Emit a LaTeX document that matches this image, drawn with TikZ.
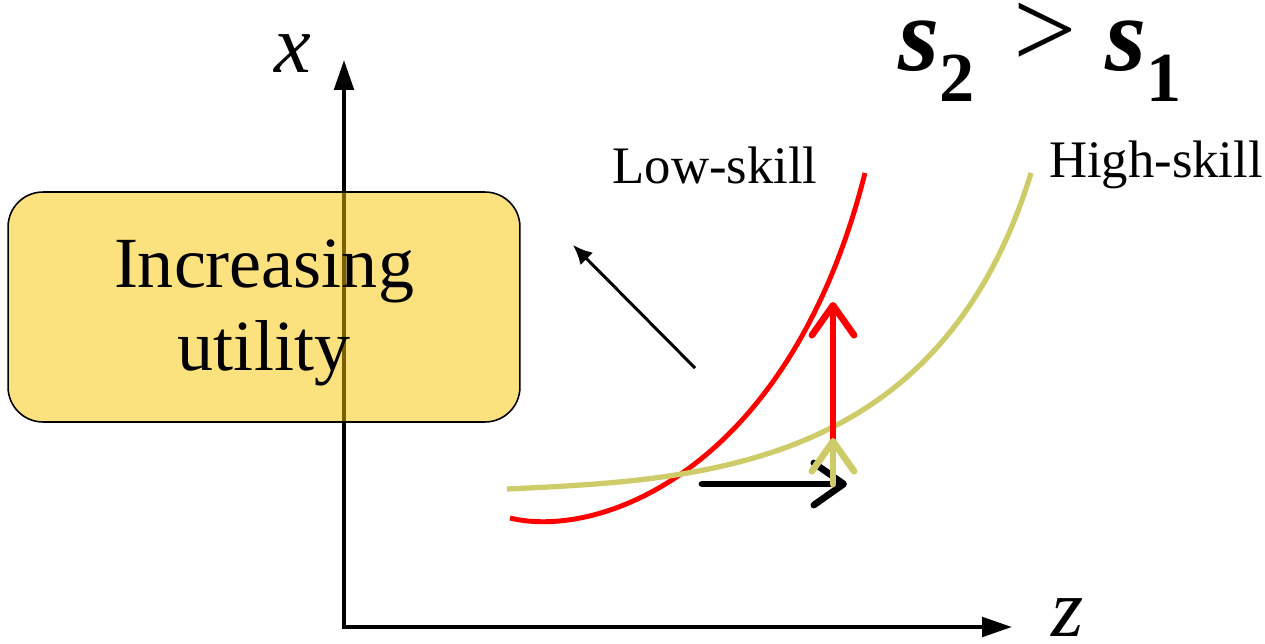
\documentclass[tikz,border=0pt]{standalone}
\usepackage{fontspec}
\setmainfont{Liberation Serif}[
  BoldFont={Liberation Serif Bold},
  ItalicFont={Liberation Serif Italic},
  BoldItalicFont={Liberation Serif Bold Italic}]
\usetikzlibrary{arrows.meta}
\definecolor{SkillRed}{HTML}{FF0000}
\definecolor{SkillOlive}{HTML}{CDCC68}
\definecolor{BoxGold}{HTML}{FAC300}
\tikzset{
  axisLine/.style={-{Triangle[length=17pt, width=11pt]}, line width=2.3pt},
  lowCurve/.style={draw=SkillRed, line width=2.8pt},
  highCurve/.style={draw=SkillOlive, line width=3pt},
  shiftArrow/.style={-{Straight Barb[length=17pt, width=24pt, round]}, line width=3.8pt, line cap=round},
  utilBox/.style={draw, line width=0.9pt, rounded corners=0.7cm, fill=BoxGold, fill opacity=0.5,
    minimum width=10.24cm, minimum height=4.6cm},
  utilText/.style={align=center, font=\fontsize{41pt}{47pt}\selectfont},
  curveLabel/.style={anchor=base, font=\fontsize{30pt}{32pt}\selectfont},
  axisLabel/.style={anchor=base, inner sep=0pt, font=\fontsize{47pt}{47pt}\selectfont\itshape},
  titlePart/.style={anchor=base west, inner sep=0pt, font=\fontsize{60pt}{60pt}\selectfont\bfseries\itshape}
}
\begin{document}
\begin{tikzpicture}[x=0.02cm, y=-0.02cm]
  \useasboundingbox (0,0) rectangle (1265,643);

  % Axes
  \coordinate (o) at (344,627);
  \coordinate (xtop) at (344,60);
  \coordinate (zend) at (1012,627);
  \draw[axisLine] (o) -- (xtop);
  \draw[axisLine] ([xshift=-1.2pt]o) -- (zend);
  \node[axisLabel] (xlab) at (293,72) {x};
  \node[axisLabel] (zlab) at (1068,636) {z};

  % Utility box
  \node[utilBox] (util) at (264,307) {};
  \node[utilText] (utiltext) at (264,313) {Increasing\\utility};

  % Direction of increasing utility
  \coordinate (dirA) at (695,368);
  \coordinate (dirB) at (573,245);
  \draw[-{Latex[length=11pt, width=10pt]}, line width=1.7pt] (dirA) -- (dirB);

  % Indifference curves
  \draw[lowCurve] (510,518) .. controls (600,540) and (790,470) .. (865,173);
  \draw[highCurve] (507,489) .. controls (700,480) and (940,470) .. (1031,173);

  % Curve labels
  \node[curveLabel] (lowlab) at (715,183) {Low-skill};
  \node[curveLabel] (highlab) at (1156,177) {High-skill};

  % Title
  \node[titlePart] (stwo) at (898,70)
    {s\raisebox{-0.3em}{\fontsize{40pt}{40pt}\selectfont\upshape 2}};
  \node[anchor=base, inner sep=0pt, font=\fontsize{64pt}{64pt}\selectfont] (gt) at (1045,67) {>};
  \node[titlePart] (sone) at (1105,70)
    {s\raisebox{-0.3em}{\fontsize{40pt}{40pt}\selectfont\upshape 1}};

  % Shift arrows
  \coordinate (sA) at (702,484);
  \coordinate (sB) at (847,484);
  \coordinate (rA) at (833,484);
  \coordinate (rB) at (833,302);
  \coordinate (yB) at (833,438);
  \draw[shiftArrow, draw=black] (sA) -- (sB);
  \draw[shiftArrow, draw=SkillRed] (rA) -- (rB);
  \draw[shiftArrow, draw=SkillOlive] (rA) -- (yB);
\end{tikzpicture}
\end{document}
